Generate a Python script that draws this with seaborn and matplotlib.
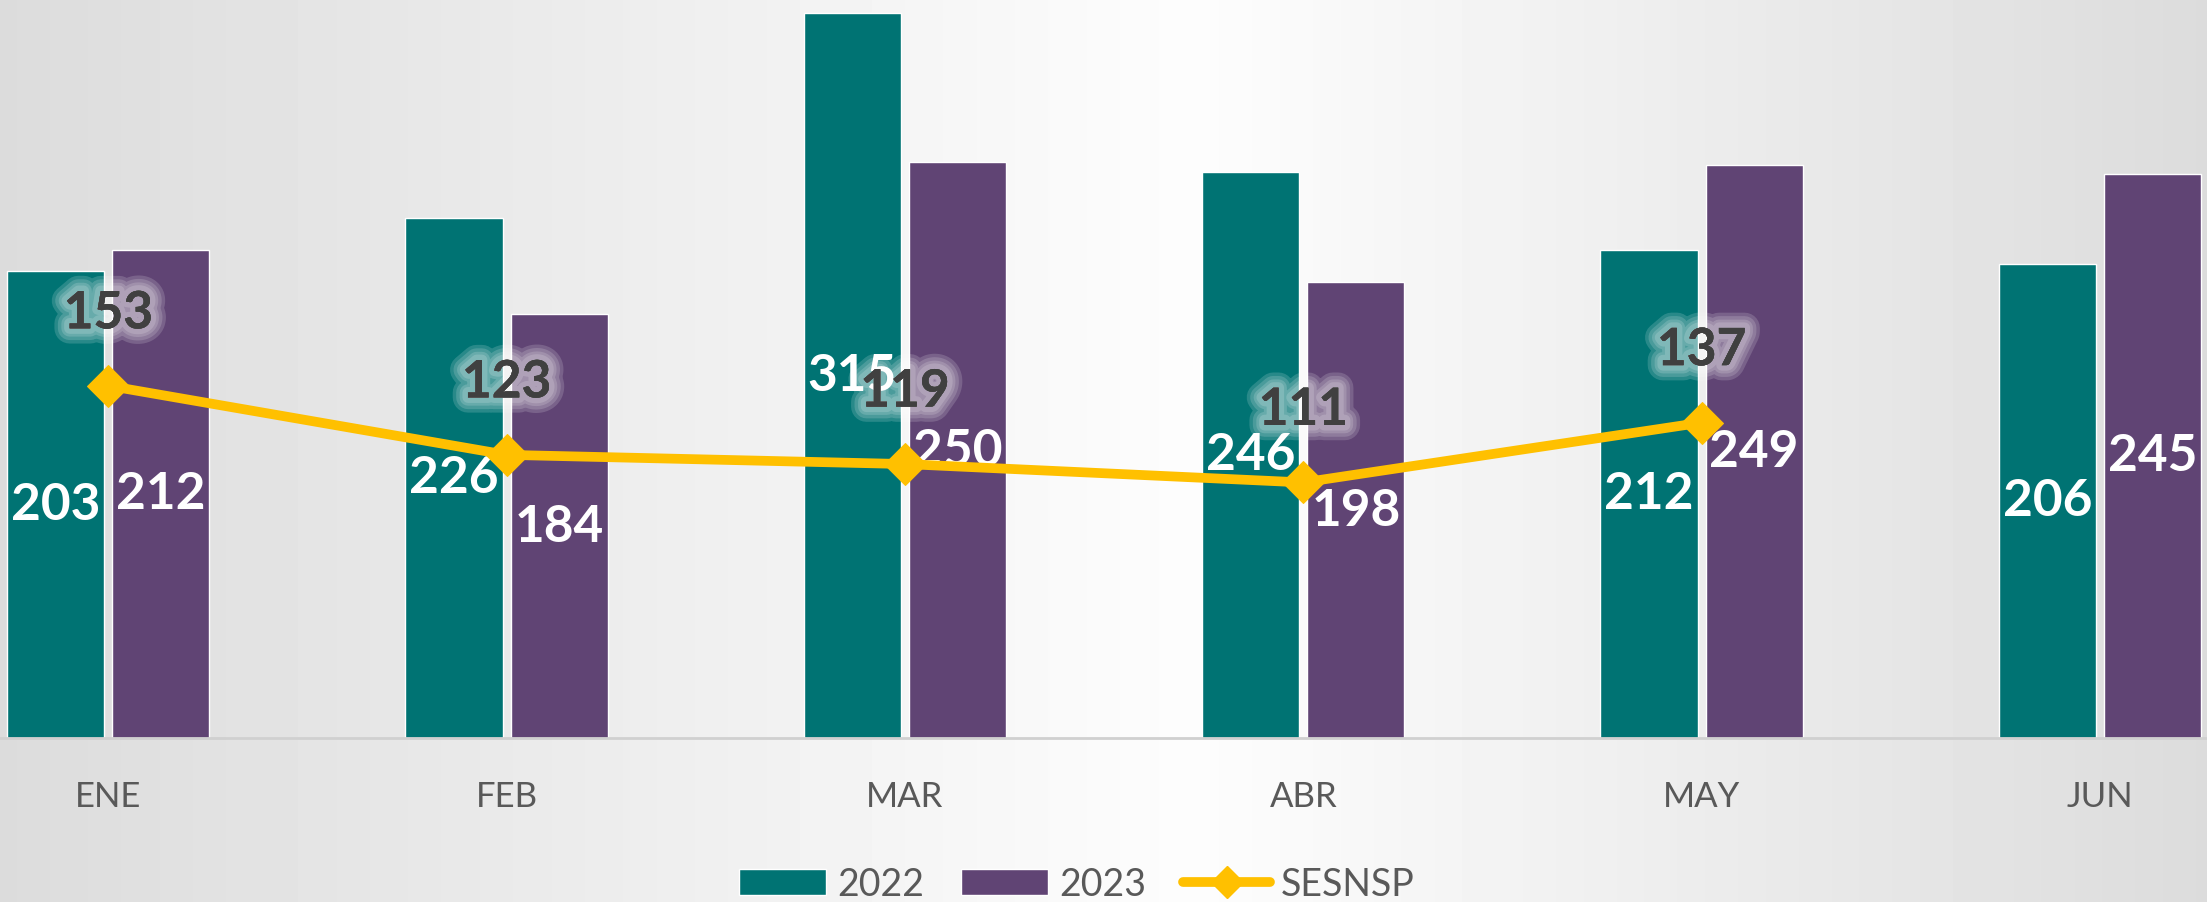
import numpy as np
import pandas as pd
import matplotlib
matplotlib.use("Agg")
import matplotlib.pyplot as plt
import matplotlib.patheffects as pe
from matplotlib.patches import Patch
from matplotlib.lines import Line2D
import seaborn as sns

# data
months = ["ENE", "FEB", "MAR", "ABR", "MAY", "JUN"]
vals_2022 = [203, 226, 315, 246, 212, 206]
vals_2023 = [212, 184, 250, 198, 249, 245]
sesnsp = [153, 123, 119, 111, 137]

teal = "#007373"
purple = "#604474"
gold = "#FFC000"

sns.set_theme(style="white")
plt.rcParams["font.family"] = ["Lato", "DejaVu Sans"]

df = pd.DataFrame({
    "mes": months * 2,
    "valor": vals_2022 + vals_2023,
    "anio": ["2022"] * 6 + ["2023"] * 6,
})

fig = plt.figure(figsize=(22.07, 9.03), dpi=100)

# horizontal gray-white-gray background gradient
bg = fig.add_axes([0, 0, 1, 1], zorder=-10)
xs = np.linspace(0, 1, 400)
peak = 0.54
shade = np.where(xs < peak, 0.862 + (0.992 - 0.862) * xs / peak,
                 0.992 - (0.992 - 0.862) * (xs - peak) / (1 - peak))
bg.imshow(np.tile(shade, (2, 1)), cmap="gray", vmin=0, vmax=1,
          aspect="auto", extent=[0, 1, 0, 1])
bg.axis("off")

ax = fig.add_axes([0, 0.1816, 1, 0.8184])
ax.patch.set_alpha(0)

sns.barplot(data=df, x="mes", y="valor", hue="anio", order=months,
            palette=[teal, purple], width=0.528, gap=0.076,
            legend=False, ax=ax, saturation=1)

# bar labels, centered in bars
for cont in ax.containers:
    ax.bar_label(cont, labels=[f"{int(v)}" for v in cont.datavalues],
                 label_type="center", color="white", fontsize=37,
                 fontweight="bold")

sns.lineplot(x=np.arange(len(sesnsp)), y=sesnsp, ax=ax, color=gold,
             linewidth=7, marker="D", markersize=21,
             markeredgecolor=gold, zorder=5)

# soft glow behind the line labels
glow = [pe.withStroke(linewidth=w, foreground=(1, 1, 1, 0.16)) for w in (22, 17, 12, 8)]
glow.append(pe.Normal())
for i, v in enumerate(sesnsp):
    ax.annotate(f"{v}", (i, v), xytext=(0, 72), textcoords="offset pixels",
                ha="center", va="center", fontsize=37, fontweight="bold",
                color="#404040", path_effects=glow, zorder=6)

ax.set_xlim(-0.272, 5.269)
ax.set_ylim(0, 321)
ax.set_xlabel("")
ax.set_ylabel("")
ax.set_yticks([])
ax.tick_params(axis="x", length=0, pad=30, labelsize=25, labelcolor="#595959")
for s in ["top", "left", "right"]:
    ax.spines[s].set_visible(False)
ax.spines["bottom"].set_color("#D0D0D0")
ax.spines["bottom"].set_linewidth(2)

handles = [
    Patch(facecolor=teal, label="2022"),
    Patch(facecolor=purple, label="2023"),
    Line2D([0], [0], color=gold, lw=7, marker="D", markersize=16, label="SESNSP"),
]
fig.legend(handles=handles, loc="center", bbox_to_anchor=(0.488, 0.02),
           ncol=3, frameon=False, fontsize=27, labelcolor="#595959",
           handlelength=2.3, handleheight=0.7, columnspacing=1.0,
           handletextpad=0.3, numpoints=1)

fig.savefig("out.png", dpi=100)
